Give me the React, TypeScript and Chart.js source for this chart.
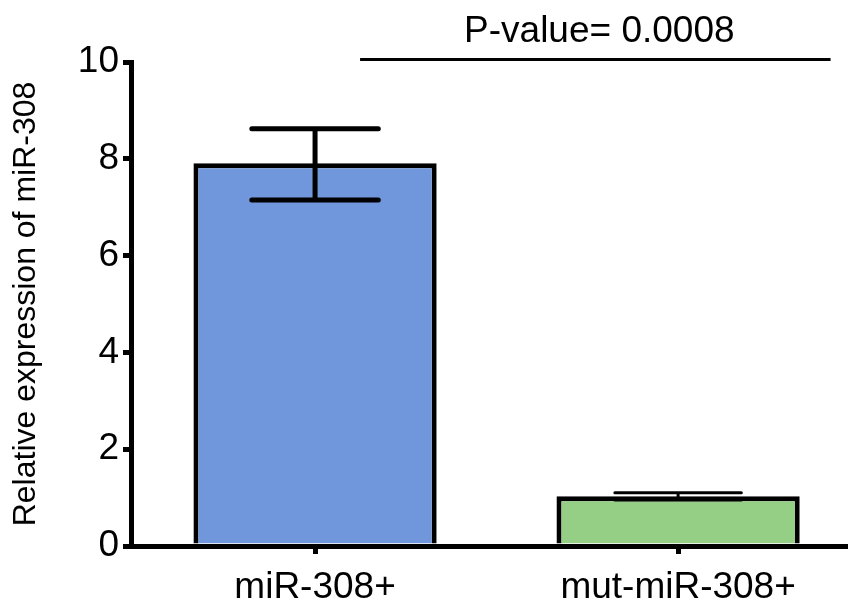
import React, { useEffect, useRef } from "react";
import { Chart, registerables } from "chart.js";

Chart.register(...registerables);

const categories = ["miR-308+", "mut-miR-308+"];
const positions = [0, 1];
const means = [7.91, 1.03];
const errUpper = [8.62, 1.10];
const errLower = [7.15, 0.95];
const barColors = ["#7097DB", "#95CE85"];
const pValueLabel = "P-value= 0.0008";
const pLineStart = 0.124;
const pLineEnd = 1.42;
const pLineValue = 10.05;

const FONT = "'Liberation Sans', Arial, Helvetica, sans-serif";

const errorBarPlugin = {
  id: "errorBars",
  afterDatasetsDraw(chart: any) {
    const ctx = chart.ctx;
    const y = chart.scales.y;
    const meta = chart.getDatasetMeta(0);
    ctx.save();
    ctx.strokeStyle = "#000";
    ctx.lineCap = "round";
    meta.data.forEach((bar: any, i: number) => {
      const x = bar.x;
      const half = bar.width * 0.26;
      const yu = y.getPixelForValue(errUpper[i]);
      const yl = y.getPixelForValue(errLower[i]);
      ctx.lineWidth = Math.abs(yl - yu) < 15 ? 3 : 5;
      ctx.beginPath();
      ctx.moveTo(x, yu);
      ctx.lineTo(x, yl);
      ctx.moveTo(x - half, yu);
      ctx.lineTo(x + half, yu);
      ctx.moveTo(x - half, yl);
      ctx.lineTo(x + half, yl);
      ctx.stroke();
    });
    ctx.restore();
  },
};

const pValuePlugin = {
  id: "pValue",
  afterDraw(chart: any) {
    const ctx = chart.ctx;
    const xs = chart.scales.x;
    const ys = chart.scales.y;
    const x1 = xs.getPixelForValue(pLineStart);
    const x2 = xs.getPixelForValue(pLineEnd);
    const yy = ys.getPixelForValue(pLineValue);
    ctx.save();
    ctx.strokeStyle = "#000";
    ctx.lineWidth = 3;
    ctx.beginPath();
    ctx.moveTo(x1, yy);
    ctx.lineTo(x2, yy);
    ctx.stroke();
    ctx.fillStyle = "#000";
    ctx.font = `37px ${FONT}`;
    ctx.textAlign = "center";
    ctx.textBaseline = "alphabetic";
    ctx.fillText(pValueLabel, (x1 + x2) / 2 + 4, yy - 18);
    ctx.restore();
  },
};

export default function App() {
  const ref = useRef<HTMLCanvasElement>(null);
  useEffect(() => {
    if (!ref.current) return;
    const chart = new Chart(ref.current, {
      type: "bar",
      data: {
        datasets: [
          {
            data: positions.map((p, i) => ({ x: p, y: means[i] })),
            backgroundColor: barColors,
            borderColor: "#000",
            borderWidth: 5,
            borderSkipped: "start",
            barPercentage: 0.67,
            categoryPercentage: 1,
          },
        ],
      },
      options: {
        animation: false,
        responsive: false,
        devicePixelRatio: 1,
        layout: { padding: { top: 62, left: 0, right: 0, bottom: 0 } },
        plugins: { legend: { display: false }, tooltip: { enabled: false } },
        scales: {
          x: {
            type: "linear",
            min: -0.507,
            max: 1.468,
            offset: false,
            afterBuildTicks: (scale: any) => {
              scale.ticks = positions.map((v) => ({ value: v }));
            },
            afterFit: (scale: any) => {
              scale.height = 61;
            },
            ticks: {
              autoSkip: false,
              maxRotation: 0,
              padding: 12,
              color: "#000",
              font: { family: FONT, size: 37 },
              callback: (v: any) => categories[positions.indexOf(v)] ?? "",
            },
            grid: {
              offset: false,
              drawOnChartArea: false,
              drawTicks: true,
              tickLength: 8,
              color: "#000",
              lineWidth: 5,
            },
            border: { display: true, color: "#000", width: 5 },
          },
          y: {
            min: 0,
            max: 10,
            afterFit: (scale: any) => {
              scale.width = 131;
            },
            ticks: {
              stepSize: 2,
              padding: 4,
              color: "#000",
              font: { family: FONT, size: 37 },
            },
            grid: {
              drawOnChartArea: false,
              drawTicks: true,
              tickLength: 8,
              color: "#000",
              lineWidth: 5,
            },
            border: { display: true, color: "#000", width: 5 },
            title: {
              display: true,
              text: "Relative expression of miR-308",
              color: "#000",
              font: { family: FONT, size: 32 },
              padding: { top: 7, bottom: 0 },
            },
          },
        },
      },
      plugins: [errorBarPlugin, pValuePlugin],
    } as any);
    return () => chart.destroy();
  }, []);
  return (
    <div style={{ position: "absolute", left: 0, top: 0, width: 848, height: 607, background: "#fff" }}>
      <canvas ref={ref} width={848} height={607} style={{ width: 848, height: 607 }} />
    </div>
  );
}
